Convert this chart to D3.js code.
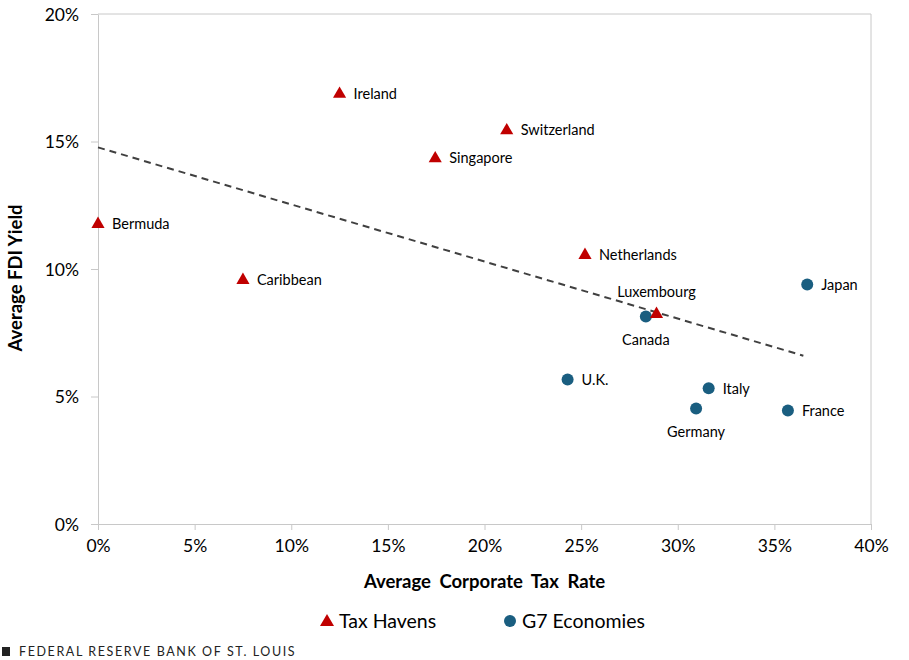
<!DOCTYPE html>
<html>
<head>
<meta charset="utf-8">
<script src="https://cdn.jsdelivr.net/npm/d3@7"></script>
<style>
  body { margin: 0; background: #fff; }
  svg { font-family: Lato, "Open Sans", sans-serif; }
</style>
</head>
<body>
<div id="chart"></div>
<script>
// data (tax rate %, FDI yield %)
var havenNames = ["Bermuda", "Caribbean", "Ireland", "Singapore", "Switzerland", "Netherlands", "Luxembourg"];
var havenTax = [0, 7.5, 12.5, 17.45, 21.15, 25.2, 28.9];
var havenYield = [11.8, 9.6, 16.9, 14.37, 15.47, 10.58, 8.27];

var g7Names = ["Canada", "Japan", "U.K.", "Italy", "Germany", "France"];
var g7Tax = [28.35, 36.7, 24.3, 31.6, 30.95, 35.7];
var g7Yield = [8.14, 9.39, 5.67, 5.32, 4.53, 4.45];

// fitted trend line end points
var trendTax = [0, 36.5];
var trendYield = [14.77, 6.6];

var xTicks = [0, 5, 10, 15, 20, 25, 30, 35, 40];
var yTicks = [0, 5, 10, 15, 20];

// label placement: r = right, t = top, b = bottom
var havenPos = ["r", "r", "r", "r", "r", "r", "t"];
var g7Pos = ["b", "r", "r", "r", "b", "r"];

var svgWidth = 909;
var svgHeight = 660;
var margin = { top: 14, right: 38, bottom: 136, left: 98 };
var width = svgWidth - margin.left - margin.right;
var height = svgHeight - margin.top - margin.bottom;

var red = "#c00000";
var blue = "#1a5e80";

var svg = d3.select("#chart")
    .append("svg")
    .attr("width", svgWidth)
    .attr("height", svgHeight);

var chartGroup = svg.append("g")
    .attr("transform", `translate(${margin.left}, ${margin.top})`);

var x = d3.scaleLinear().domain([0, 40]).range([0, width]);
var y = d3.scaleLinear().domain([0, 20]).range([height, 0]);

// frame: top and right lines
chartGroup.append("line")
    .attr("x1", 0).attr("x2", width)
    .attr("y1", y(20)).attr("y2", y(20))
    .attr("stroke", "#c8c8c8");
chartGroup.append("line")
    .attr("x1", width).attr("x2", width)
    .attr("y1", 0).attr("y2", height)
    .attr("stroke", "#c8c8c8");

var bottomAxis = d3.axisBottom(x)
    .tickValues(xTicks)
    .tickFormat(d => d + "%")
    .tickSizeInner(6)
    .tickSizeOuter(0)
    .tickPadding(10);
var leftAxis = d3.axisLeft(y)
    .tickValues(yTicks)
    .tickFormat(d => d + "%")
    .tickSizeInner(7)
    .tickSizeOuter(0)
    .tickPadding(12);

var xAxis = chartGroup.append("g")
    .attr("transform", `translate(0, ${height})`)
    .call(bottomAxis);
var yAxis = chartGroup.append("g")
    .call(leftAxis);

[xAxis, yAxis].forEach(function(ax) {
    ax.selectAll("path, line").attr("stroke", "#c8c8c8");
    ax.selectAll("text")
        .attr("fill", "#000")
        .style("font-family", "Lato, sans-serif")
        .style("font-size", "17.5px");
});
yAxis.selectAll("text").attr("dy", "0.35em");

// axis titles
chartGroup.append("text")
    .attr("x", width / 2 - 0)
    .attr("y", height + 64)
    .attr("text-anchor", "middle")
    .style("font-weight", "bold")
    .style("font-size", "18.5px")
    .style("word-spacing", "4px")
    .text("Average Corporate Tax Rate");

chartGroup.append("text")
    .attr("transform", "rotate(-90)")
    .attr("x", -(y(10) + 9))
    .attr("y", -76)
    .attr("text-anchor", "middle")
    .style("font-weight", "bold")
    .style("font-size", "18.5px")
    .text("Average FDI Yield");

// trend line
chartGroup.append("line")
    .attr("x1", x(trendTax[0])).attr("y1", y(trendYield[0]))
    .attr("x2", x(trendTax[1])).attr("y2", y(trendYield[1]))
    .attr("stroke", "#404040")
    .attr("stroke-width", 2)
    .attr("stroke-dasharray", "7,5");

var triangle = d3.symbol().type(d3.symbolTriangle).size(75);

var havens = havenNames.map((n, i) => ({ name: n, tax: havenTax[i], fdi: havenYield[i], pos: havenPos[i] }));
var g7 = g7Names.map((n, i) => ({ name: n, tax: g7Tax[i], fdi: g7Yield[i], pos: g7Pos[i] }));

// G7 circles (drawn first so Luxembourg triangle sits on top of Canada)
chartGroup.selectAll("circle.g7")
    .data(g7)
    .enter()
    .append("circle")
    .attr("class", "g7")
    .attr("cx", d => x(d.tax))
    .attr("cy", d => y(d.fdi))
    .attr("r", 6)
    .attr("fill", blue);

chartGroup.selectAll("path.haven")
    .data(havens)
    .enter()
    .append("path")
    .attr("class", "haven")
    .attr("d", triangle)
    .attr("transform", d => `translate(${x(d.tax)}, ${y(d.fdi) + 1})`)
    .attr("fill", red);

function placeLabels(data) {
    chartGroup.selectAll(null)
        .data(data)
        .enter()
        .append("text")
        .attr("x", d => d.pos === "r" ? x(d.tax) + 14 : x(d.tax))
        .attr("y", d => d.pos === "r" ? y(d.fdi) + 0.5 : (d.pos === "t" ? y(d.fdi) - 21 : y(d.fdi) + 23))
        .attr("dy", "0.35em")
        .attr("text-anchor", d => d.pos === "r" ? "start" : "middle")
        .style("font-size", "14.5px")
        .attr("fill", "#000")
        .text(d => d.name);
}
placeLabels(havens);
placeLabels(g7);

// legend
var legend = svg.append("g").attr("transform", "translate(0, 621)");
legend.append("path")
    .attr("d", d3.symbol().type(d3.symbolTriangle).size(85))
    .attr("transform", "translate(327, 1)")
    .attr("fill", red);
legend.append("text")
    .attr("x", 339).attr("dy", "0.35em")
    .style("font-size", "19.5px")
    .text("Tax Havens");
legend.append("circle")
    .attr("cx", 510).attr("cy", 0).attr("r", 6)
    .attr("fill", blue);
legend.append("text")
    .attr("x", 522).attr("dy", "0.35em")
    .style("font-size", "19.5px")
    .text("G7 Economies");

// footer
svg.append("rect")
    .attr("x", 2).attr("y", 647).attr("width", 8).attr("height", 9)
    .attr("fill", "#222");
svg.append("text")
    .attr("x", 19).attr("y", 651.5)
    .attr("dy", "0.35em")
    .style("font-size", "12.5px")
    .style("letter-spacing", "1.6px")
    .attr("fill", "#222")
    .text("FEDERAL RESERVE BANK OF ST. LOUIS");
</script>
</body>
</html>
